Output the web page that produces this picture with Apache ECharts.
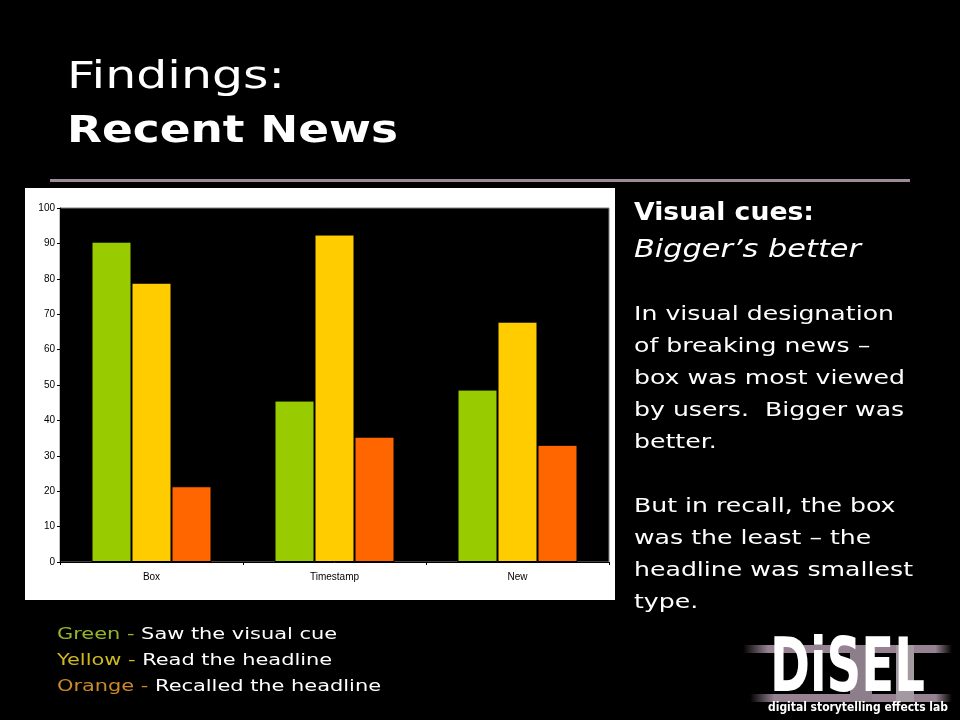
<!DOCTYPE html>
<html>
<head>
<meta charset="utf-8">
<style>html,body{margin:0;padding:0;background:#000;}#c{width:960px;height:720px;}</style>
<script src="https://cdn.jsdelivr.net/npm/echarts@6/dist/echarts.min.js"></script>
</head>
<body>
<div id="c"></div>
<script>
var categories = ['Box', 'Timestamp', 'New'];
var sawCue = [90.5, 45.6, 48.7];
var readHeadline = [78.9, 92.5, 67.9];
var recalledHeadline = [21.4, 35.4, 33.1];
var yTicks = [0, 10, 20, 30, 40, 50, 60, 70, 80, 90, 100];

var FONT = '"DejaVu Sans"';
var chart = echarts.init(document.getElementById('c'), null, {renderer: 'canvas'});

var mctx = document.createElement('canvas').getContext('2d');
function measure(text, font) { mctx.font = font; return mctx.measureText(text).width; }

function txt(text, x, y, font, fill, sx) {
  return {type: 'text', z: 10, x: x, y: y, scaleX: sx || 1,
    style: {text: text, x: 0, y: 0, font: font, fill: fill, textVerticalAlign: 'middle', verticalAlign: 'middle'}};
}
function fitTxt(text, x, y, font, fill, width) {
  return txt(text, x, y, font, fill, width / measure(text, font));
}

var bodyFont = '20px ' + FONT;
var body1 = ['In visual designation', 'of breaking news \u2013', 'box was most viewed', 'by users.  Bigger was', 'better.'];
var body2 = ['But in recall, the box', 'was the least \u2013 the', 'headline was smallest', 'type.'];
var bodyScale = 260 / measure(body1[0], bodyFont);

var graphics = [
  {type: 'rect', z: -10, shape: {x: 25, y: 188, width: 590, height: 412}, style: {fill: '#fff'}},
  {type: 'rect', z: 5, shape: {x: 50, y: 179, width: 860, height: 3}, style: {fill: '#9c8c98'}},
  fitTxt('Findings:', 67, 78, 'normal 37px ' + FONT, '#fff', 218),
  fitTxt('Recent News', 67, 132, 'bold 37px ' + FONT, '#fff', 331),
  fitTxt('Visual cues:', 634, 213, 'bold 25px ' + FONT, '#fff', 180),
  fitTxt('Bigger\u2019s better', 634, 250, 'italic 25px ' + FONT, '#fff', 227)
];
body1.forEach(function (t, i) { graphics.push(txt(t, 634, 315 + i * 32, bodyFont, '#fff', bodyScale)); });
body2.forEach(function (t, i) { graphics.push(txt(t, 634, 507 + i * 32, bodyFont, '#fff', bodyScale)); });

var legendLines = [
  ['Green -', 'Saw the visual cue', '#99b42a'],
  ['Yellow -', 'Read the headline', '#cdb820'],
  ['Orange -', 'Recalled the headline', '#cc8a2a']
];
var legFont = '16px ' + FONT;
var legScale = 324 / measure(legendLines[2][0] + ' ' + legendLines[2][1], legFont);
legendLines.forEach(function (l, i) {
  graphics.push({type: 'text', z: 10, x: 57, y: 635 + i * 26, scaleX: legScale, style: {
    text: '{c|' + l[0] + '} {w|' + l[1] + '}', x: 0, y: 0,
    font: legFont, fill: '#fff', textVerticalAlign: 'middle', verticalAlign: 'middle',
    rich: {c: {fill: l[2], color: l[2], font: legFont}, w: {fill: '#fff', color: '#fff', font: legFont}}
  }});
});

// DiSEL logo
function band(x, y, w, h) {
  return {type: 'rect', z: 3, shape: {x: x, y: y, width: w, height: h}, style: {fill: new echarts.graphic.LinearGradient(0, 0, 1, 0, [
    {offset: 0, color: 'rgba(150,130,146,0)'}, {offset: 0.12, color: 'rgba(150,130,146,1)'},
    {offset: 0.92, color: 'rgba(150,130,146,1)'}, {offset: 1, color: 'rgba(150,130,146,0)'}])}};
}
graphics.push(band(743, 645, 209, 8));
graphics.push(band(750, 694, 202, 8));
graphics.push({type: 'rect', z: 3, shape: {x: 850, y: 645, width: 22, height: 57}, style: {fill: '#8c7e8a'}});
graphics.push({type: 'rect', z: 3, shape: {x: 896, y: 645, width: 18, height: 57}, style: {fill: '#a39aa1'}});
graphics.push(fitTxt('DiSEL', 770, 672, 'bold 74px ' + FONT, '#fff', 155));
graphics.push(fitTxt('digital storytelling effects lab', 768, 708, 'bold 12px ' + FONT, '#fff', 180));

chart.setOption({
  backgroundColor: '#000',
  animation: false,
  grid: {left: 60, right: 351, top: 208, bottom: 158, show: true, backgroundColor: '#000', borderColor: '#808080', borderWidth: 1},
  xAxis: {
    type: 'category', data: categories,
    axisLine: {lineStyle: {color: '#000', width: 1}},
    axisTick: {show: true, length: 3, lineStyle: {color: '#000'}},
    axisLabel: {color: '#000', fontSize: 10, fontFamily: 'Liberation Sans', margin: 10}
  },
  yAxis: {
    type: 'value', min: yTicks[0], max: yTicks[yTicks.length - 1], interval: 10,
    axisLine: {show: true, lineStyle: {color: '#000', width: 1}},
    axisTick: {show: true, length: 3, lineStyle: {color: '#000'}},
    splitLine: {show: false},
    axisLabel: {color: '#000', fontSize: 10, fontFamily: 'Liberation Sans', margin: 5}
  },
  series: [
    {type: 'bar', data: sawCue, barWidth: 40, barGap: '0%', itemStyle: {color: '#99cc00', borderColor: '#000', borderWidth: 1}},
    {type: 'bar', data: readHeadline, barWidth: 40, barGap: '0%', itemStyle: {color: '#ffcc00', borderColor: '#000', borderWidth: 1}},
    {type: 'bar', data: recalledHeadline, barWidth: 40, barGap: '0%', itemStyle: {color: '#ff6600', borderColor: '#000', borderWidth: 1}}
  ],
  graphic: graphics
});
</script>
</body>
</html>
